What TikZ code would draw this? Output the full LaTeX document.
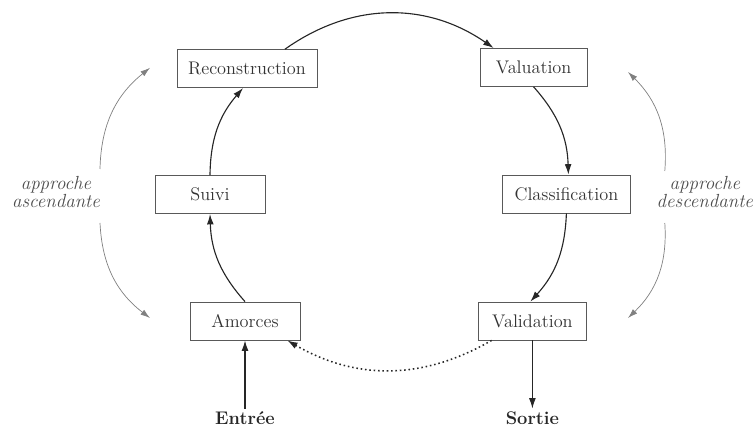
\documentclass[tikz,border=0pt]{standalone}
\usepackage{tikz}
\usetikzlibrary{arrows.meta}
\tikzset{
    etape/.style = {rectangle, draw=black!65, line width=0.6pt, minimum height=0.95cm, text=black!80, font=\fontsize{13}{15}\selectfont},
    flux/.style = {-{Latex[length=2.6mm,width=1.7mm]}, thick, black!85},
    fluxd/.style = {-{Latex[length=2.6mm,width=1.7mm]}, line width=1.1pt, black!85, dotted}, % retour
    approche/.style = {-{Latex[length=2.4mm,width=1.5mm]}, gray, line width=0.5pt},
    legende/.style = {font=\fontsize{13.5}{12.5}\selectfont\itshape, text=black!70, align=center, inner sep=1pt},
    bord/.style = {font=\fontsize{13}{15}\selectfont\bfseries, text=black!85, inner sep=2pt}
}
\begin{document}
\begin{tikzpicture}
  \useasboundingbox (0,0) rectangle (18.9,10.675);

  % etapes
  \node[etape, minimum width=3.5cm]   at (6.175,8.96)  (rec) {Reconstruction};
  \node[etape, minimum width=2.68cm]  at (13.34,8.99)  (val) {Valuation};
  \node[etape, minimum width=2.75cm]  at (5.25,5.81)   (sui) {Suivi};
  \node[etape, minimum width=3.18cm]  at (14.16,5.825) (cla) {Classification};
  \node[etape, minimum width=2.75cm]  at (6.125,2.65)  (amo) {Amorces};
  \node[etape, minimum width=2.72cm]  at (13.31,2.65)  (vali) {Validation};

  \node[bord] at (6.125,0.22) (ent) {Entrée};
  \node[bord] at (13.31,0.22) (sor) {Sortie};

  \node[legende] at (1.4,5.875) (asc) {approche\\ascendante};
  \node[legende] at (17.62,5.875) (des) {approche\\descendante};

  % bouts libres des approches
  \coordinate (a1) at (2.5,6.45);
  \coordinate (a2) at (3.75,8.98);
  \coordinate (a3) at (2.5,5.1);
  \coordinate (a4) at (3.75,2.725);
  \coordinate (d1) at (16.62,6.4);
  \coordinate (d2) at (15.7,8.875);
  \coordinate (d3) at (16.62,5.1);
  \coordinate (d4) at (15.7,2.725);

  % cycle
  \draw[flux] ([xshift=0.95cm]rec.north) to[bend left=35] ([xshift=-1cm]val.north);
  \draw[flux] (val.south) to[bend left=20] ([xshift=0.05cm]cla.north);
  \draw[flux] (cla.south) to[bend left=20] ([xshift=-0.05cm]vali.north);
  \draw[flux] (amo.north) to[bend left=20] (sui.south);
  \draw[flux] (sui.north) to[bend left=20] ([xshift=-0.1cm]rec.south);
  \draw[fluxd] ([xshift=0.35cm]vali.south west) to[bend left=30] ([xshift=-0.33cm]amo.south east);

  % entree / sortie
  \draw[flux] (ent.north) -- (amo.south);
  \draw[flux] (vali.south) -- (sor.north);

  % approches
  \draw[approche] (a1) to[bend left=25] (a2);
  \draw[approche] (a3) to[bend right=25] (a4);
  \draw[approche] (d1) to[bend right=25] (d2);
  \draw[approche] (d3) to[bend left=25] (d4);
\end{tikzpicture}
\end{document}
